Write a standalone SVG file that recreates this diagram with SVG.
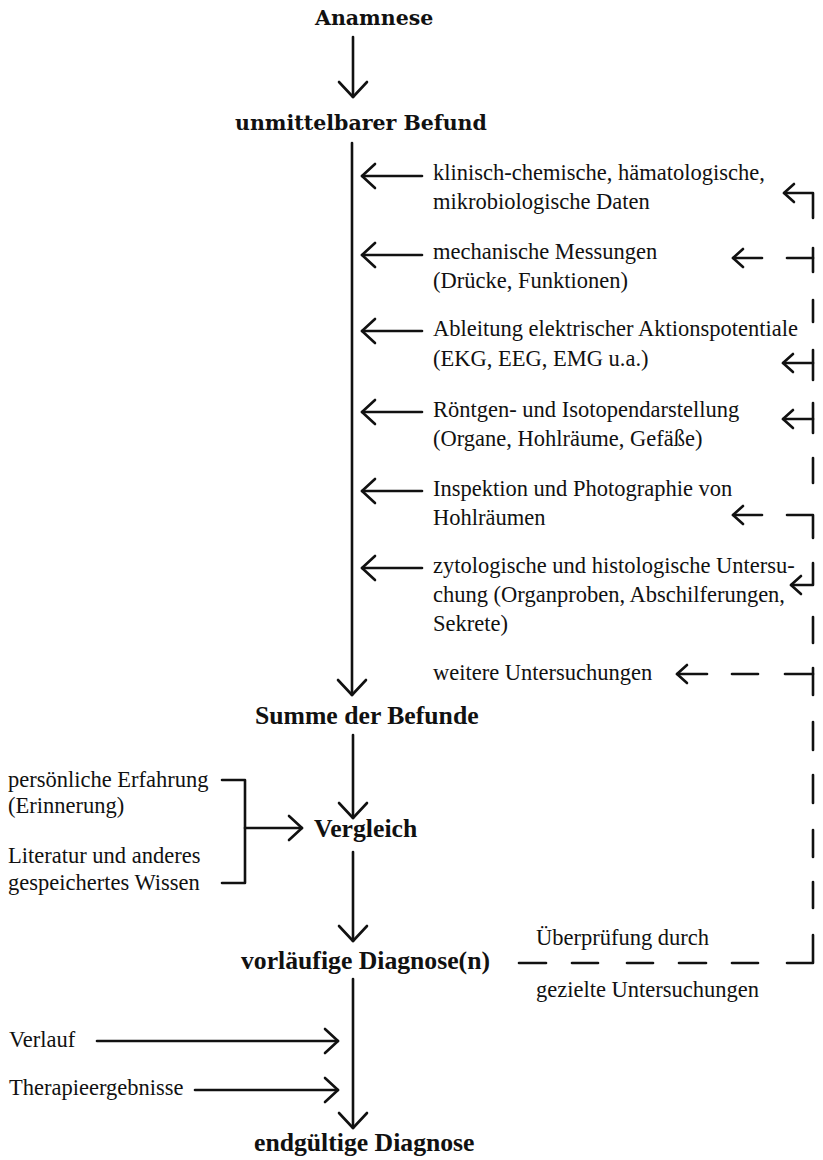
<svg xmlns="http://www.w3.org/2000/svg" width="823" height="1160" viewBox="0 0 823 1160">
<style>
.t{font-family:"Liberation Serif","Times New Roman",serif;font-size:22.5px;fill:#111}
.h{font-family:"DejaVu Serif",serif;font-weight:bold;font-size:20.5px;fill:#111}
.b{font-family:"Liberation Serif","Times New Roman",serif;font-weight:bold;font-size:25.7px;fill:#111}
.c path{fill:none;stroke:#111;stroke-width:2.6;stroke-linecap:round;stroke-linejoin:round}
</style>
<defs>
<marker id="ahb" markerUnits="userSpaceOnUse" markerWidth="40" markerHeight="40" viewBox="-20 -20 40 40" refX="0" refY="0" orient="auto"><path d="M-15,-14 L0,0 L-15,14" fill="none" stroke="#111" stroke-width="2.6" stroke-linecap="round" stroke-linejoin="round"/></marker>
<marker id="ah" markerUnits="userSpaceOnUse" markerWidth="40" markerHeight="40" viewBox="-20 -20 40 40" refX="0" refY="0" orient="auto"><path d="M-13,-12 L0,0 L-13,12" fill="none" stroke="#111" stroke-width="2.6" stroke-linecap="round" stroke-linejoin="round"/></marker>
<marker id="ahs" markerUnits="userSpaceOnUse" markerWidth="30" markerHeight="30" viewBox="-15 -15 30 30" refX="0" refY="0" orient="auto"><path d="M-10,-9 L0,0 L-10,9" fill="none" stroke="#111" stroke-width="2.6" stroke-linecap="round" stroke-linejoin="round"/></marker>
</defs>
<rect width="823" height="1160" fill="#fff"/>

<g id="anamnese"><text class="h" x="315" y="25">Anamnese</text></g>
<g id="befund"><text class="h" x="235" y="130">unmittelbarer Befund</text></g>

<g id="klinisch"><text class="t" x="433" y="180">klinisch-chemische, hämatologische,</text><text class="t" x="433" y="209">mikrobiologische Daten</text></g>
<g id="mechanisch"><text class="t" x="433" y="259">mechanische Messungen</text><text class="t" x="433" y="288">(Drücke, Funktionen)</text></g>
<g id="ableitung"><text class="t" x="433" y="336">Ableitung elektrischer Aktionspotentiale</text><text class="t" x="433" y="366">(EKG, EEG, EMG u.a.)</text></g>
<g id="roentgen"><text class="t" x="433" y="417">Röntgen- und Isotopendarstellung</text><text class="t" x="433" y="446">(Organe, Hohlräume, Gefäße)</text></g>
<g id="inspektion"><text class="t" x="433" y="496">Inspektion und Photographie von</text><text class="t" x="433" y="525">Hohlräumen</text></g>
<g id="zytologie"><text class="t" x="433" y="573">zytologische und histologische Untersu-</text><text class="t" x="433" y="602">chung (Organproben, Abschilferungen,</text><text class="t" x="433" y="631">Sekrete)</text></g>
<g id="weitere"><text class="t" x="433" y="680">weitere Untersuchungen</text></g>

<g id="summe"><text class="b" x="255" y="724">Summe der Befunde</text></g>
<g id="erfahrung"><text class="t" x="8" y="787">persönliche Erfahrung</text><text class="t" x="8" y="813">(Erinnerung)</text></g>
<g id="literatur"><text class="t" x="8" y="863">Literatur und anderes</text><text class="t" x="8" y="890">gespeichertes Wissen</text></g>
<g id="vergleich"><text class="b" x="314" y="837">Vergleich</text></g>
<g id="vorlaeufig"><text class="b" x="241" y="969">vorläufige Diagnose(n)</text></g>
<g id="ueberpruefung"><text class="t" x="536" y="945">Überprüfung durch</text><text class="t" x="536" y="997">gezielte Untersuchungen</text></g>
<g id="verlauf"><text class="t" x="9" y="1047">Verlauf</text></g>
<g id="therapie"><text class="t" x="9" y="1095">Therapieergebnisse</text></g>
<g id="endgueltig"><text class="b" x="254" y="1151">endgültige Diagnose</text></g>

<g id="connectors" class="c">
<path d="M353,37 L353,97" marker-end="url(#ahb)"/>
<path d="M352,143 L352,695" marker-end="url(#ahb)"/>
<path d="M353,735 L353,818" marker-end="url(#ahb)"/>
<path d="M353,852 L353,941" marker-end="url(#ahb)"/>
<path d="M353,979 L353,1128" marker-end="url(#ahb)"/>

<path d="M422,176 L362,176" marker-end="url(#ah)"/>
<path d="M422,255 L362,255" marker-end="url(#ah)"/>
<path d="M422,331 L362,331" marker-end="url(#ah)"/>
<path d="M422,412 L362,412" marker-end="url(#ah)"/>
<path d="M422,491 L362,491" marker-end="url(#ah)"/>
<path d="M422,568 L362,568" marker-end="url(#ah)"/>

<path d="M813,218 L813,193 L784,193" marker-end="url(#ahs)"/>
<path d="M813,248 L813,272"/>
<path d="M813,258 L787,258"/>
<path d="M762,258 L733,258" marker-end="url(#ahs)"/>
<path d="M813,300 L813,322"/>
<path d="M813,350 L813,380"/>
<path d="M813,363 L783,363" marker-end="url(#ahs)"/>
<path d="M813,403 L813,433"/>
<path d="M813,419 L783,419" marker-end="url(#ahs)"/>
<path d="M813,458 L813,483"/>
<path d="M787,515 L813,515 L813,538"/>
<path d="M762,515 L733,515" marker-end="url(#ahs)"/>
<path d="M813,563 L813,585 L791,585" marker-end="url(#ahs)"/>
<path d="M813,617 L813,643"/>
<path d="M813,668 L813,695"/>
<path d="M813,674 L785,674"/>
<path d="M758,674 L732,674"/>
<path d="M707,674 L677,674" marker-end="url(#ahs)"/>
<path d="M813,722 L813,750"/>
<path d="M813,775 L813,803"/>
<path d="M813,830 L813,857"/>
<path d="M813,882 L813,908"/>
<path d="M813,935 L813,963 L787,963"/>
<path d="M732,963 L758,963"/>
<path d="M679,963 L706,963"/>
<path d="M627,963 L653,963"/>
<path d="M572,963 L598,963"/>
<path d="M519,963 L546,963"/>

<path d="M222,780 L245,780 L245,883 L222,883"/>
<path d="M245,828 L302,828" marker-end="url(#ah)"/>
<path d="M97,1041 L338,1041" marker-end="url(#ah)"/>
<path d="M195,1090 L338,1090" marker-end="url(#ah)"/>
</g>
</svg>
